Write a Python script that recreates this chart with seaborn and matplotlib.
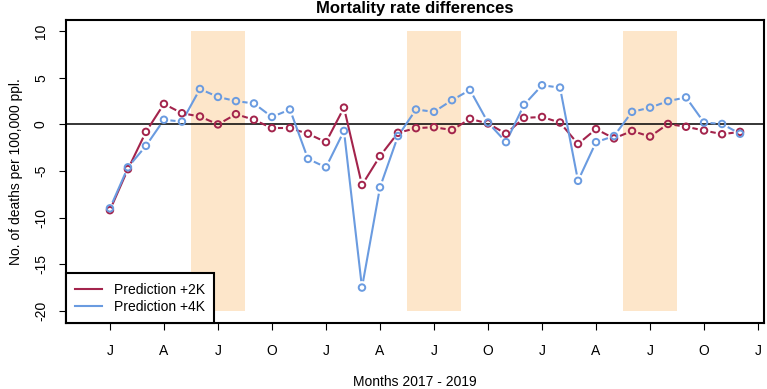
import numpy as np
import pandas as pd
import matplotlib.pyplot as plt
import seaborn as sns
from matplotlib.lines import Line2D

# monthly values Jan 2017 - Dec 2019 (deaths per 100,000)
month_idx = list(range(36))
pred_2k = [-9.2, -4.8, -0.8, 2.2, 1.2, 0.85, 0.0, 1.1, 0.5, -0.4,
           -0.4, -1.0, -1.9, 1.8, -6.5, -3.4, -0.9, -0.4, -0.3, -0.6,
           0.6, 0.1, -1.0, 0.7, 0.8, 0.2, -2.1, -0.5, -1.5, -0.7,
           -1.3, 0.05, -0.25, -0.65, -1.05, -0.8]
pred_4k = [-9.0, -4.6, -2.3, 0.5, 0.3, 3.8, 2.95, 2.5, 2.25, 0.8,
           1.6, -3.7, -4.6, -0.7, -17.5, -6.75, -1.25, 1.6, 1.35, 2.6,
           3.7, 0.2, -1.9, 2.1, 4.2, 3.95, -6.05, -1.9, -1.25, 1.35,
           1.8, 2.5, 2.9, 0.2, 0.05, -1.0]
tick_pos = list(range(0, 37, 3))
tick_labels = ['J', 'A', 'J', 'O', 'J', 'A', 'J', 'O', 'J', 'A', 'J', 'O', 'J']
summer_start = [4.5, 16.5, 28.5]   # Jun-Aug each year
summer_end = [7.5, 19.5, 31.5]
series_names = ['Prediction +2K', 'Prediction +4K']
series_colors = ['#a3244c', '#6a9be0']

plt.rcParams['font.family'] = ['Liberation Sans', 'DejaVu Sans']
plt.rcParams['font.size'] = 10

fig = plt.figure(figsize=(7.67, 3.89), dpi=100)
ax = fig.add_axes([66 / 767, 1 - 323 / 389, (764 - 66) / 767, (323 - 20) / 389])
ax.set_xlim(-2.44, 36.33)
ax.set_ylim(-21.3, 11.2)

for s, e in zip(summer_start, summer_end):
    ax.fill_betweenx([-20, 10], s, e, color='#fde6ca', lw=0, zorder=0)
ax.axhline(0, color='black', lw=1.1, zorder=1)

GAP_PX = 7.5


def gapped_segments(x, y):
    """R type='b' style: line segments stop short of each point"""
    pts = ax.transData.transform(np.column_stack([x, y]))
    inv = ax.transData.inverted()
    rows = []
    for k in range(len(pts) - 1):
        d = pts[k + 1] - pts[k]
        length = np.hypot(*d)
        if length <= 2 * GAP_PX:
            continue
        u = d / length
        a = inv.transform(pts[k] + u * GAP_PX)
        b = inv.transform(pts[k + 1] - u * GAP_PX)
        rows.append((k, a[0], a[1]))
        rows.append((k, b[0], b[1]))
    return pd.DataFrame(rows, columns=['seg', 'x', 'y'])


for vals, col in zip([pred_2k, pred_4k], series_colors):
    seg = gapped_segments(month_idx, vals)
    sns.lineplot(data=seg, x='x', y='y', units='seg', estimator=None, sort=False,
                 color=col, lw=1.5, ax=ax, zorder=2)
    sns.scatterplot(x=month_idx, y=vals, marker='o', s=22, color=col, ax=ax, zorder=3)
    pts = ax.collections[-1]
    pts.set_facecolor('none')
    pts.set_edgecolor(col)
    pts.set_linewidth(1.4)

ax.set_xlim(-2.44, 36.33)
ax.set_ylim(-21.3, 11.2)
ax.set_xticks(tick_pos)
ax.set_xticklabels(tick_labels)
ax.set_yticks([-20, -15, -10, -5, 0, 5, 10])
ax.set_yticklabels(['-20', '-15', '-10', '-5', '0', '5', '10'], rotation=90, va='center')
ax.tick_params(axis='both', length=5, width=0.8, direction='out', labelsize=10)
ax.tick_params(axis='x', pad=10)
ax.tick_params(axis='y', pad=8)
for sp in ax.spines.values():
    sp.set_linewidth(1.5)
    sp.set_color('black')

ax.set_xlabel('Months 2017 - 2019', fontsize=10, labelpad=12)
ax.set_ylabel('No. of deaths per 100,000 ppl.', fontsize=10, labelpad=8)
fig.text(415 / 767, 1 - 8.5 / 389, 'Mortality rate differences', ha='center', va='center',
         fontsize=12, fontweight='bold')

handles = [Line2D([], [], color=c, lw=1.5) for c in series_colors]
leg = ax.legend(handles, series_names, loc='lower left', borderaxespad=0, fancybox=False,
                framealpha=1, edgecolor='black', fontsize=10, handlelength=1.95,
                handletextpad=0.86, borderpad=0.65, labelspacing=0.25)
leg.get_frame().set_linewidth(1.5)

fig.savefig('out.png', dpi=100)
